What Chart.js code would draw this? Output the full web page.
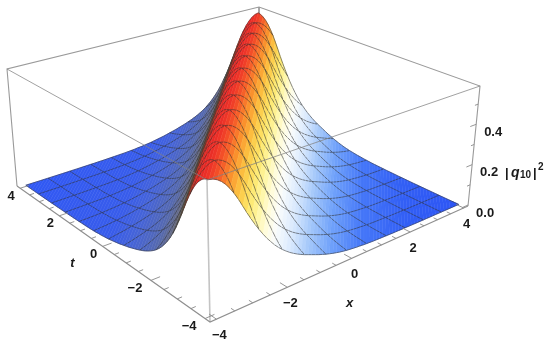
<!DOCTYPE html>
<html>
<head>
<meta charset="utf-8">
<style>
  html, body { margin: 0; background: #fff; }
  canvas { display: block; }
</style>
</head>
<body>
<canvas id="plot" width="550" height="347"></canvas>
<script src="https://cdn.jsdelivr.net/npm/chart.js@4/dist/chart.umd.min.js"></script>
<script>
const xTicks = [-4, -2, 0, 2, 4];
const tTicks = [-4, -2, 0, 2, 4];
const zTicks = [0, 0.2, 0.4];
const xMinorTicks = [-3.5, -3, -2.5, -1.5, -1, -0.5, 0.5, 1, 1.5, 2.5, 3, 3.5];
const zMinorTicks = [0.1, 0.3, 0.5];

// heights, one value every 1/9 of |x - t| from 0 to 8
const heightRight = [
  0.570, 0.566, 0.557, 0.543, 0.524, 0.500, 0.472, 0.440, 0.405, 0.370, 0.337, 0.306, 0.277,
  0.250, 0.225, 0.203, 0.182, 0.164, 0.148, 0.134, 0.121, 0.110, 0.100, 0.091, 0.083, 0.076,
  0.069, 0.062, 0.055, 0.049, 0.043, 0.038, 0.033, 0.029, 0.025, 0.022, 0.019, 0.017, 0.015,
  0.013, 0.012, 0.010, 0.009, 0.008, 0.007, 0.0065, 0.006, 0.0055, 0.005, 0.0045, 0.004, 0.0038,
  0.0035, 0.003, 0.003, 0.0028, 0.0025, 0.0023, 0.002, 0.002, 0.0018, 0.0017, 0.0016, 0.0015, 0.0014,
  0.0013, 0.0012, 0.0011, 0.001, 0.001, 0.001, 0.001, 0.001
];
const heightLeft = [
  0.570, 0.566, 0.556, 0.540, 0.519, 0.492, 0.460, 0.424, 0.385, 0.345, 0.308, 0.273, 0.242,
  0.214, 0.190, 0.169, 0.150, 0.134, 0.120, 0.108, 0.098, 0.089, 0.081, 0.074, 0.068, 0.062,
  0.057, 0.052, 0.047, 0.043, 0.039, 0.035, 0.031, 0.028, 0.025, 0.022, 0.019, 0.017, 0.015,
  0.013, 0.012, 0.010, 0.009, 0.008, 0.007, 0.0065, 0.006, 0.0055, 0.005, 0.0045, 0.004, 0.0038,
  0.0035, 0.003, 0.003, 0.0028, 0.0025, 0.0023, 0.002, 0.002, 0.0018, 0.0017, 0.0016, 0.0015, 0.0014,
  0.0013, 0.0012, 0.0011, 0.001, 0.001, 0.001, 0.001, 0.001
];

// shading across the ridge: x - t and colour
const shadeAt = [-8, -4, -3, -2, -1.4, -1, -0.75, -0.5, -0.25, 0, 0.25, 0.5, 0.75, 1, 1.25, 1.5, 1.75, 2.25, 2.75, 3.5, 4.5, 6, 8];
const shadeRgb = [
  [48, 88, 245], [56, 92, 235], [70, 100, 215], [85, 105, 175], [100, 105, 130], [95, 85, 65],
  [150, 60, 40], [215, 40, 35], [232, 42, 38], [238, 55, 40], [245, 90, 40], [250, 145, 45],
  [252, 195, 65], [253, 230, 105], [254, 246, 165], [255, 252, 220], [250, 252, 252],
  [215, 232, 253], [165, 200, 250], [110, 160, 250], [70, 120, 248], [50, 95, 245], [45, 85, 245]
];

// box limits, a little wider than the plotted range
const EDGE = 4.17;
const Z_FLOOR = -0.005;
const Z_TOP = 0.59;
const STEPS = 72;
const MESH_EVERY = 6;
const BOX = '#9a9a9a';
const MESH = 'rgba(50,50,50,0.72)';

function squareMap(p00, p10, p01, p11) {
  const dx1 = p10[0] - p11[0], dx2 = p01[0] - p11[0], sx = p00[0] - p10[0] + p11[0] - p01[0];
  const dy1 = p10[1] - p11[1], dy2 = p01[1] - p11[1], sy = p00[1] - p10[1] + p11[1] - p01[1];
  const den = dx1 * dy2 - dx2 * dy1;
  const g = (sx * dy2 - dx2 * sy) / den;
  const h = (dx1 * sy - sx * dy1) / den;
  const a = p10[0] - p00[0] + g * p10[0], b = p01[0] - p00[0] + h * p01[0];
  const d = p10[1] - p00[1] + g * p10[1], e = p01[1] - p00[1] + h * p01[1];
  return (u, v) => {
    const w = g * u + h * v + 1;
    return [(a * u + b * v + p00[0]) / w, (d * u + e * v + p00[1]) / w];
  };
}

const floorMap = squareMap([210, 322], [468, 206], [17, 186], [259, 110]);
const topMap = squareMap([207, 180], [480, 86], [7, 69], [259, 7]);

function project(x, t, z) {
  const u = (x + EDGE) / (2 * EDGE), v = (t + EDGE) / (2 * EDGE);
  const lo = floorMap(u, v), hi = topMap(u, v), f = (z - Z_FLOOR) / (Z_TOP - Z_FLOOR);
  return { x: lo[0] + (hi[0] - lo[0]) * f, y: lo[1] + (hi[1] - lo[1]) * f };
}

function node(i, j) {
  const z = i >= j ? heightRight[i - j] : heightLeft[j - i];
  return project(-4 + i / 9, -4 + j / 9, z);
}

function shade(d) {
  let n = 0;
  while (n < shadeAt.length - 2 && d > shadeAt[n + 1]) n++;
  const f = (d - shadeAt[n]) / (shadeAt[n + 1] - shadeAt[n]);
  const c = shadeRgb[n].map((v, m) => Math.round(v + (shadeRgb[n + 1][m] - v) * f));
  return `rgb(${c[0]},${c[1]},${c[2]})`;
}

const GAP = { x: NaN, y: NaN };

function lineSet(data, color, width) {
  return { data, showLine: true, fill: false, borderColor: color, borderWidth: width, pointRadius: 0, clip: false };
}

// one strip of surface between x - t = k/9 and (k + 1)/9
function stripPolygon(k) {
  const pts = k >= 0
    ? [node(k, 0), node(STEPS, STEPS - k), node(STEPS, STEPS - k - 1), node(k + 1, 0)]
    : [node(0, -k), node(STEPS + k, STEPS), node(STEPS + k + 1, STEPS), node(0, -k - 1)];
  return pts.concat([pts[0]]);
}

function stripMesh(k) {
  const pts = [];
  for (let j = 0; j <= STEPS; j += MESH_EVERY) {
    const i = j + k;
    if (i >= 0 && i + 1 <= STEPS) pts.push(node(i, j), node(i + 1, j), GAP);
  }
  for (let i = 0; i <= STEPS; i += MESH_EVERY) {
    const j = i - k;
    if (j - 1 >= 0 && j <= STEPS) pts.push(node(i, j), node(i, j - 1), GAP);
  }
  return pts;
}

function tickSegments() {
  const pts = [];
  xTicks.forEach(x => pts.push(project(x, -EDGE, Z_FLOOR), project(x, -EDGE + 0.25, Z_FLOOR), GAP));
  xMinorTicks.forEach(x => pts.push(project(x, -EDGE, Z_FLOOR), project(x, -EDGE + 0.13, Z_FLOOR), GAP));
  tTicks.forEach(t => pts.push(project(-EDGE, t, Z_FLOOR), project(-EDGE + 0.25, t, Z_FLOOR), GAP));
  xMinorTicks.forEach(t => pts.push(project(-EDGE, t, Z_FLOOR), project(-EDGE + 0.13, t, Z_FLOOR), GAP));
  zTicks.forEach(z => pts.push(project(EDGE, -EDGE, z), project(EDGE - 0.22, -EDGE, z), GAP));
  zMinorTicks.forEach(z => pts.push(project(EDGE, -EDGE, z), project(EDGE - 0.12, -EDGE, z), GAP));
  return pts;
}

const corner = (x, t, z) => project(x * EDGE, t * EDGE, z);
const datasets = [];

// first dataset ends up on top
datasets.push(lineSet([corner(-1, 1, Z_TOP), corner(-1, -1, Z_TOP), corner(1, -1, Z_TOP)], 'rgba(130,130,130,0.75)', 1));
datasets.push(lineSet(tickSegments(), '#8a8a8a', 0.9));
datasets.push(lineSet([corner(-1, 1, Z_FLOOR), corner(-1, -1, Z_FLOOR), corner(1, -1, Z_FLOOR)], '#8f8f8f', 1.1));
datasets.push(lineSet([corner(-1, -1, Z_FLOOR), corner(-1, -1, Z_TOP)], '#c4c4c4', 1.6));

for (let k = STEPS - 1; k >= -STEPS; k--) {
  datasets.push(lineSet(stripMesh(k), MESH, 0.8));
  const color = shade((k + 0.5) / 9);
  datasets.push({
    data: stripPolygon(k), showLine: true, fill: 'shape', backgroundColor: color,
    borderColor: color, borderWidth: 0.5, pointRadius: 0, clip: false
  });
}

datasets.push(lineSet([corner(-1, 1, Z_FLOOR), corner(-1, 1, Z_TOP), corner(1, 1, Z_TOP), corner(1, -1, Z_TOP), corner(1, -1, Z_FLOOR)], BOX, 1.1));
datasets.push(lineSet([corner(1, 1, Z_TOP), corner(1, 1, Z_FLOOR)], BOX, 1));

function zLabel(ctx, x, y) {
  ctx.textAlign = 'left';
  ctx.font = 'bold 13px "Liberation Sans"';
  ctx.fillText('|', x, y);
  ctx.font = 'italic bold 14px "Liberation Sans"';
  ctx.fillText('q', x + 6, y);
  ctx.font = 'bold 10px "Liberation Sans"';
  ctx.fillText('10', x + 15, y + 2);
  ctx.font = 'bold 13px "Liberation Sans"';
  ctx.fillText('|', x + 28, y);
  ctx.font = 'bold 10px "Liberation Sans"';
  ctx.fillText('2', x + 33, y - 6);
}

const axisText = {
  id: 'axisText',
  afterDraw(chart) {
    const ctx = chart.ctx;
    const sx = chart.scales.x, sy = chart.scales.y;
    const put = (txt, p, dx, dy) => ctx.fillText(txt, sx.getPixelForValue(p.x) + dx, sy.getPixelForValue(p.y) + dy);
    const num = v => String(v).replace('-', '\u2212');
    ctx.save();
    ctx.fillStyle = '#1a1a1a';
    ctx.font = 'bold 13px "Liberation Sans"';
    ctx.textAlign = 'center';
    ctx.textBaseline = 'middle';
    xTicks.forEach(x => put(num(x), project(x, -EDGE, Z_FLOOR), 3, 16));
    tTicks.forEach(t => put(num(t), project(-EDGE, t, Z_FLOOR), t < 0 ? -16 : -9, 8));
    zTicks.forEach(z => put(z.toFixed(1), project(EDGE, -EDGE, z), 17, 8));
    ctx.font = 'italic bold 13px "Liberation Sans"';
    put('x', project(0, -EDGE, Z_FLOOR), -2, 45);
    put('t', project(-EDGE, 1, Z_FLOOR), -8, 33);
    zLabel(ctx, 505, 173);
    ctx.restore();
  }
};

new Chart(document.getElementById('plot'), {
  type: 'scatter',
  data: { datasets },
  plugins: [axisText],
  options: {
    responsive: false,
    animation: false,
    events: [],
    layout: { padding: 0 },
    plugins: { legend: { display: false }, tooltip: { enabled: false } },
    scales: {
      x: { type: 'linear', min: 0, max: 550, display: false },
      y: { type: 'linear', min: 0, max: 347, reverse: true, display: false }
    }
  }
});
</script>
</body>
</html>
